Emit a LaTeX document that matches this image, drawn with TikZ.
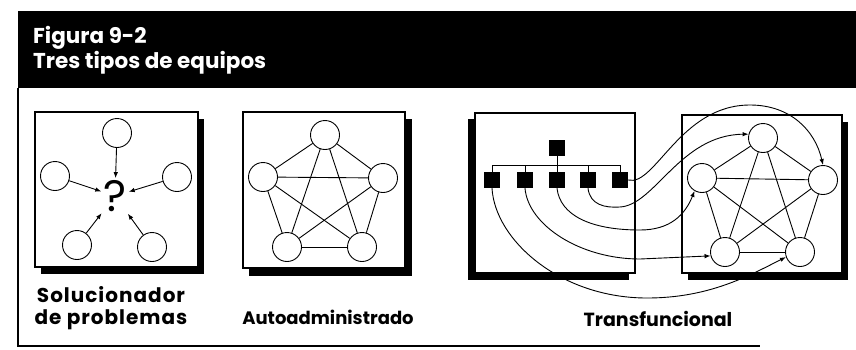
\documentclass[tikz,border=0pt]{standalone}
\usepackage{fontspec}
\newfontfamily\futfont{Poppins}
\newfontfamily\futwide{Poppins}[LetterSpace=5]
\usetikzlibrary{arrows.meta}
\begin{document}
\begin{tikzpicture}[x=1pt,y=-1pt,
  box/.style={draw,line width=1.2pt,fill=white},
  circ/.style={circle,draw,line width=0.9pt,minimum size=29pt,inner sep=0pt,fill=white},
  sq/.style={rectangle,fill=black,minimum size=16pt,inner sep=0pt},
  edge/.style={line width=0.9pt},
  arr/.style={line width=0.9pt,-{Latex[length=6pt,width=4.5pt]}},
  lbl/.style={font=\futfont\bfseries\fontsize{18}{22}\selectfont,anchor=base,inner sep=0pt},
  wlbl/.style={font=\futwide\bfseries\fontsize{20}{22}\selectfont,anchor=base,inner sep=0pt},
  hdr/.style={font=\futfont\bfseries\fontsize{21.5}{24}\selectfont,text=white,anchor=base west,inner sep=0pt}
]
\useasboundingbox (0,0) rectangle (856,349);
% header and frame
\fill (18,11) rectangle (856,88);
\draw[line width=1.4pt] (18,88) -- (18,346) -- (760,346);
\node[hdr] (h1) at (33,43) {Figura 9-2};
\node[hdr] (h2) at (33,68) {Tres tipos de equipos};

% ---------- panel 1
\fill (41,119) rectangle (204,274);
\draw[box] (35,112) rectangle (198,267);
\node[circ] (a1) at (117,133) {};
\node[circ] (a2) at (55,176) {};
\node[circ] (a3) at (177,177) {};
\node[circ] (a4) at (77,245) {};
\node[circ] (a5) at (152,247) {};
\node[font=\futfont\fontsize{44}{44}\selectfont,inner sep=1pt] (q) at (115,196) {?};
\foreach \n in {a1,a2,a3,a4,a5} \draw[arr,shorten >=1pt] (\n) -- (q);

% ---------- panel 2
\fill (249,119) rectangle (412,276);
\draw[box] (243,112) rectangle (405,268);
\node[circ] (b1) at (325,135) {};
\node[circ] (b2) at (263,177) {};
\node[circ] (b3) at (383,178) {};
\node[circ] (b4) at (287,247) {};
\node[circ] (b5) at (362,247) {};
\foreach \u/\v in {b1/b2,b1/b3,b1/b4,b1/b5,b2/b3,b2/b4,b2/b5,b3/b4,b3/b5,b4/b5}
  \draw[edge] (\u) -- (\v);

% ---------- panel 3 left (org chart)
\fill (468,119) rectangle (629,280);
\draw[box] (475,113) rectangle (635,273);
\node[sq] (s0) at (557,148) {};
\node[sq] (s1) at (492,180) {};
\node[sq] (s2) at (525,180) {};
\node[sq] (s3) at (557,180) {};
\node[sq] (s4) at (588,180) {};
\node[sq] (s5) at (620,180) {};
\coordinate (bar) at (557,165);
\draw[edge] (s0.south) -- (s3.north);
\draw[edge] (s1.north) -- (s1.north |- bar) -- (s5.north |- bar) -- (s5.north);
\draw[edge] (s2.north) -- (s2.north |- bar);
\draw[edge] (s4.north) -- (s4.north |- bar);

% ---------- panel 3 right
\fill (688,122) rectangle (848,280);
\draw[box] (682,115) rectangle (842,273);
\node[circ] (c1) at (763,138) {};
\node[circ] (c2) at (702,178) {};
\node[circ] (c3) at (823,180) {};
\node[circ] (c4) at (725,252) {};
\node[circ] (c5) at (800,252) {};
\foreach \u/\v in {c1/c2,c1/c3,c1/c4,c1/c5,c2/c3,c2/c4,c2/c5,c3/c4,c3/c5,c4/c5}
  \draw[edge] (\u) -- (\v);

% ---------- cross-functional curves
\draw[arr] (s5.east) .. controls (655,187) and (680,105) .. (750,105)
   .. controls (790,105) and (815,130) .. (c3.north);
\draw[arr] (s4.south) .. controls (590,205) and (605,208) .. (620,207)
   .. controls (655,205) and (680,135) .. (c1.165);
\draw[arr] (s3.south) .. controls (560,215) and (590,230) .. (640,230)
   .. controls (670,230) and (685,215) .. (c2.240);
\draw[arr] (s2.south) .. controls (528,225) and (580,259) .. (640,259) -- (c4.195);
\draw[arr] (s1.south) .. controls (495,240) and (560,298) .. (647,298)
   .. controls (710,298) and (750,275) .. (c5.200);

% ---------- labels
\node[wlbl] (t1a) at (111,302) {Solucionador};
\node[wlbl] (t1b) at (111,324) {de problemas};
\node[lbl] (t2) at (328,324) {Autoadministrado};
\node[lbl,font=\futfont\bfseries\fontsize{19}{22}\selectfont] (t3) at (658,326) {Transfuncional};
\end{tikzpicture}
\end{document}
